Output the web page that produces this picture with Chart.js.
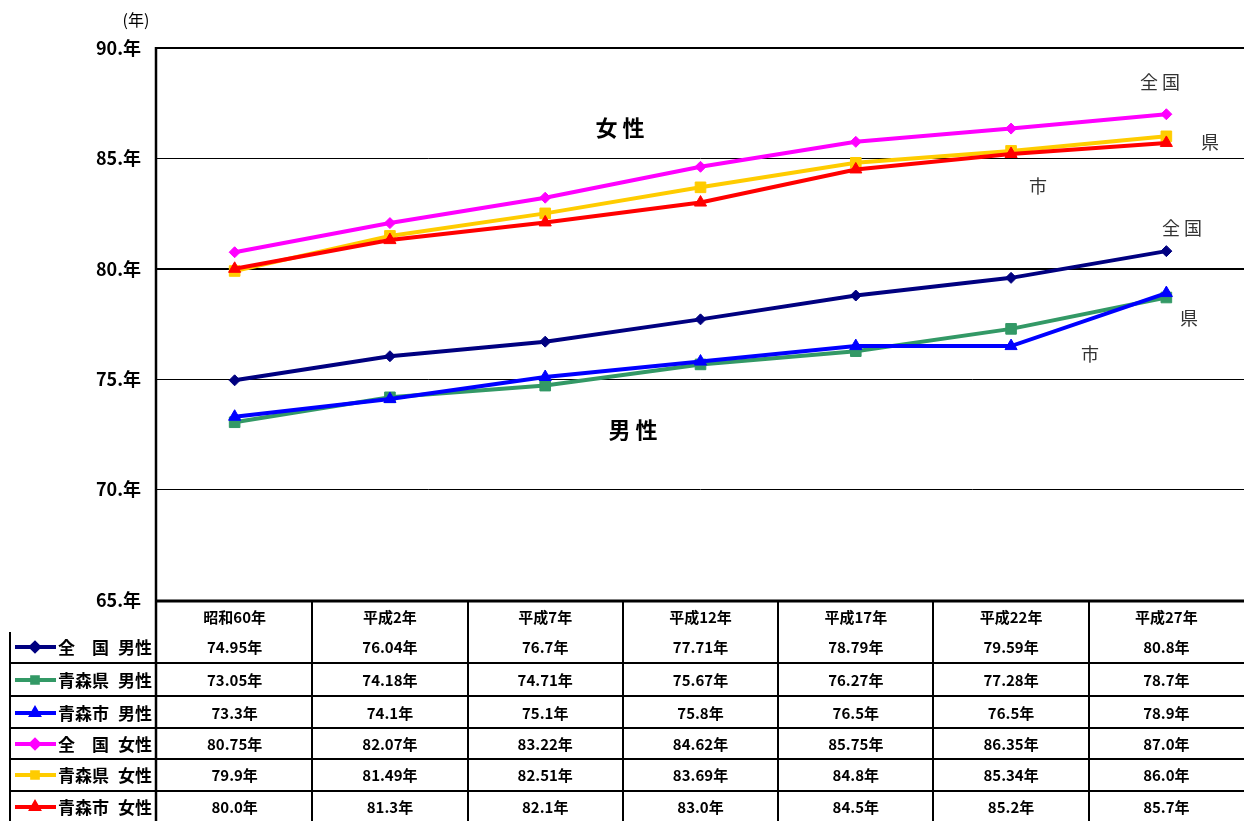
<!DOCTYPE html>
<html>
<head>
<meta charset="utf-8">
<script src="https://cdn.jsdelivr.net/npm/chart.js@4/dist/chart.umd.min.js"></script>
<style>
html,body{margin:0;padding:0;background:#fff;overflow:hidden;}
canvas{display:block;}
</style>
</head>
<body>
<canvas id="c" width="1244" height="821"></canvas>
<script>
const categories = ['昭和60年','平成2年','平成7年','平成12年','平成17年','平成22年','平成27年'];
const seriesNames = ['全　国 男性','青森県 男性','青森市 男性','全　国 女性','青森県 女性','青森市 女性'];
const legendPlaces = ['全　国','青森県','青森市','全　国','青森県','青森市'];
const legendSexes = ['男性','男性','男性','女性','女性','女性'];
const nationalMale = [74.95, 76.04, 76.7, 77.71, 78.79, 79.59, 80.8];
const prefMale     = [73.05, 74.18, 74.71, 75.67, 76.27, 77.28, 78.7];
const cityMale     = [73.3, 74.1, 75.1, 75.8, 76.5, 76.5, 78.9];
const nationalFemale = [80.75, 82.07, 83.22, 84.62, 85.75, 86.35, 87.0];
const prefFemale     = [79.9, 81.49, 82.51, 83.69, 84.8, 85.34, 86.0];
const cityFemale     = [80.0, 81.3, 82.1, 83.0, 84.5, 85.2, 85.7];
const yTicks = [65, 70, 75, 80, 85, 90];

const colors = ['#000080', '#339966', '#0000FF', '#FF00FF', '#FFCC00', '#FF0000'];
const styles = ['rectRot', 'rect', 'triangle', 'rectRot', 'rect', 'triangle'];
const radii  = [5.5, 7.5, 7, 5.5, 7.5, 7];
const allData = [nationalMale, prefMale, cityMale, nationalFemale, prefFemale, cityFemale];
const drawOrder = [2, 1, 0, 2, 1, 0];

function fmt(v){ const s = String(v); return s.indexOf('.') < 0 ? s + '.0年' : s + '年'; }

const JP = '"Noto Sans CJK JP", "Noto Sans", sans-serif';

const annotations = [
  {t:'女 性', x:620, y:128, size:22, weight:'bold', color:'#000'},
  {t:'男 性', x:633, y:430, size:22, weight:'bold', color:'#000'},
  {t:'全 国', x:1160, y:82, size:18, weight:'normal', color:'#333'},
  {t:'県', x:1210, y:142, size:18, weight:'normal', color:'#333'},
  {t:'市', x:1038, y:186, size:18, weight:'normal', color:'#333'},
  {t:'全 国', x:1182, y:228, size:18, weight:'normal', color:'#333'},
  {t:'県', x:1189, y:318, size:18, weight:'normal', color:'#333'},
  {t:'市', x:1090, y:354, size:18, weight:'normal', color:'#333'}
];

const tablePlugin = {
  id: 'tablePlugin',
  afterDraw(chart) {
    const ctx = chart.ctx;
    const xs = chart.scales.x;
    const ca = chart.chartArea;
    const n = categories.length;
    const pts = categories.map((_, i) => xs.getPixelForValue(i));
    const half = (pts[1] - pts[0]) / 2;
    const rowY = [647, 680, 713, 744, 775, 807];
    const sepY = [663, 696, 728, 759, 791];
    const right = chart.width;
    ctx.save();
    ctx.strokeStyle = '#000';
    ctx.lineWidth = 2;
    ctx.beginPath(); ctx.moveTo(ca.left, ca.top); ctx.lineTo(right, ca.top); ctx.stroke();
    ctx.lineWidth = 3;
    ctx.beginPath(); ctx.moveTo(ca.left, ca.bottom + 1); ctx.lineTo(right, ca.bottom + 1); ctx.stroke();
    ctx.lineWidth = 2.5;
    ctx.beginPath(); ctx.moveTo(ca.left - 1, ca.top - 1); ctx.lineTo(ca.left - 1, 821); ctx.stroke();
    ctx.lineWidth = 2;
    for (let i = 1; i < n; i++) {
      const x = Math.round(pts[i] - half);
      ctx.beginPath(); ctx.moveTo(x, ca.bottom); ctx.lineTo(x, 821); ctx.stroke();
    }
    ctx.beginPath(); ctx.moveTo(10, 632); ctx.lineTo(10, 821); ctx.stroke();
    sepY.forEach(y => { ctx.beginPath(); ctx.moveTo(10, y); ctx.lineTo(right, y); ctx.stroke(); });
    ctx.fillStyle = '#000';
    ctx.textAlign = 'center';
    ctx.textBaseline = 'middle';
    ctx.font = 'bold 15px ' + JP;
    allData.forEach((arr, r) => {
      arr.forEach((v, i) => ctx.fillText(fmt(v), pts[i], rowY[r]));
    });
    allData.forEach((arr, r) => {
      const y = rowY[r];
      ctx.strokeStyle = colors[r];
      ctx.lineWidth = 4;
      ctx.beginPath(); ctx.moveTo(15, y); ctx.lineTo(56, y); ctx.stroke();
      ctx.fillStyle = colors[r];
      Chart.helpers.drawPoint(ctx, {pointStyle: styles[r], radius: 4, borderWidth: 1, rotation: 0}, 35, y);
      ctx.fill();
      ctx.fillStyle = '#000';
      ctx.textAlign = 'left';
      ctx.font = 'bold 17px ' + JP;
      ctx.fillText(legendPlaces[r], 58, y + 1);
      ctx.fillText(legendSexes[r], 118, y + 1);
    });
    ctx.textAlign = 'center';
    ctx.font = '16px ' + JP;
    ctx.fillText('(年)', 136, 20);
    annotations.forEach(a => {
      ctx.fillStyle = a.color;
      ctx.font = a.weight + ' ' + a.size + 'px ' + JP;
      ctx.fillText(a.t, a.x, a.y);
    });
    ctx.restore();
  }
};

new Chart(document.getElementById('c'), {
  type: 'line',
  data: {
    labels: categories,
    datasets: allData.map((d, i) => ({
      label: seriesNames[i],
      data: d,
      borderColor: colors[i],
      backgroundColor: colors[i],
      pointBackgroundColor: colors[i],
      pointBorderColor: colors[i],
      pointStyle: styles[i],
      pointRadius: radii[i],
      pointBorderWidth: 1,
      borderWidth: 4,
      tension: 0,
      order: drawOrder[i]
    }))
  },
  options: {
    responsive: false,
    animation: false,
    devicePixelRatio: 1,
    layout: {autoPadding: false, padding: {top: 48, left: 0, right: 0, bottom: 0}},
    plugins: {legend: {display: false}, tooltip: {enabled: false}},
    scales: {
      x: {
        offset: true,
        grid: {display: false, drawTicks: false},
        border: {display: false},
        ticks: {color: '#000', font: {family: JP, size: 15, weight: 'bold'}, padding: 8, maxRotation: 0},
        afterFit(s) { s.height = 221; s.paddingLeft = 0; s.paddingRight = 0; }
      },
      y: {
        min: 65, max: 90,
        afterBuildTicks(s) { s.ticks = yTicks.map(v => ({value: v})); },
        grid: {color: '#000', lineWidth: c => (c.tick && c.tick.value === 80 ? 2 : 1), drawTicks: false},
        border: {display: false},
        ticks: {color: '#000', font: {family: JP, size: 18, weight: 'bold'}, padding: 16,
                callback: v => v + '.年'},
        afterFit(s) { s.width = 157; s.paddingTop = 0; s.paddingBottom = 0; }
      }
    }
  },
  plugins: [tablePlugin]
});
</script>
</body>
</html>
